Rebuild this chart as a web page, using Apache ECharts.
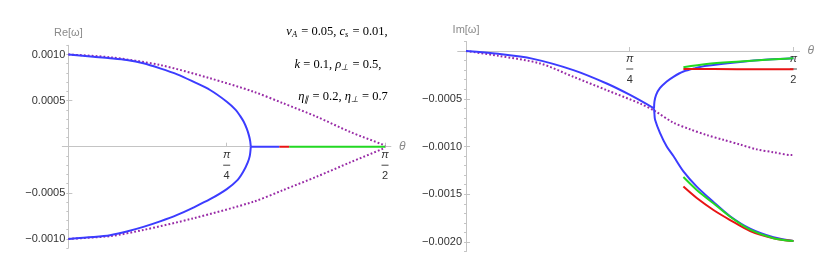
<!DOCTYPE html>
<html><head><meta charset="utf-8">
<script src="https://cdn.jsdelivr.net/npm/echarts@6/dist/echarts.min.js"></script>
<style>html,body{margin:0;padding:0;background:#fff}#c{width:830px;height:269px}</style>
</head><body><div id="c"></div>
<script>
// ---- tick labels ----
const xTickValues = [Math.PI / 4, Math.PI / 2];
const xTickDenoms = ['4', '2'];
const reMajorTicks = [-0.001, -0.0005, 0.0005, 0.001];
const imMajorTicks = [-0.002, -0.0015, -0.001, -0.0005];
const reMinorTicks = [];
for (let i = -11; i <= 11; i++) reMinorTicks.push(i / 10000);
const imMinorTicks = [];
for (let i = -21; i <= 1; i++) imMinorTicks.push(i / 10000);

// ---- Re[omega] panel ----
const reBlueUpper = [[0,0.001],[0.124,0.000976],[0.207,0.00096],[0.29,0.00094],[0.372,0.000905],[0.455,0.00085],[0.54,0.000785],[0.62,0.000705],[0.703,0.000615],[0.786,0.000488],[0.83,0.0004],[0.852,0.000335],[0.87,0.00027],[0.885,0.000195],[0.896,0.00012],[0.902,0.00006],[0.905,0]];
const reBlueLower = [[0,-0.001],[0.124,-0.00098],[0.207,-0.00096],[0.29,-0.00092],[0.372,-0.00087],[0.455,-0.00081],[0.54,-0.00074],[0.62,-0.00066],[0.703,-0.00057],[0.786,-0.00046],[0.84,-0.00036],[0.868,-0.00027],[0.89,-0.00017],[0.9,-0.0001],[0.905,0]];
const reBlueFlat = [[0.905,0],[1.047,0]];
const reRedFlat = [[1.047,0],[1.096,0]];
const reGreenFlat = [[1.096,0],[1.571,0]];
const reDottedUpper = [[0,0.001],[0.207,0.00097],[0.455,0.000886],[0.703,0.000742],[0.918,0.000597],[1.066,0.000471],[1.232,0.000325],[1.398,0.00016],[1.562,0.00002],[1.571,0]];
const reDottedLower = [[0,-0.001],[0.207,-0.00097],[0.372,-0.000903],[0.62,-0.000777],[0.918,-0.000597],[1.066,-0.00047],[1.232,-0.000325],[1.398,-0.00017],[1.562,-0.00002],[1.571,0]];

// ---- Im[omega] panel ----
const imBlueMain = [[0,0],[0.154,-0.00003],[0.317,-0.00008],[0.515,-0.0002],[0.675,-0.00034],[0.787,-0.00046],[0.902,-0.0006]];
const imBlueUpper = [[0.902,-0.0006],[0.904,-0.00053],[0.912,-0.00046],[0.93,-0.00039],[0.963,-0.00032],[0.995,-0.00027],[1.043,-0.000215],[1.1,-0.00018],[1.155,-0.000155],[1.315,-0.000115],[1.45,-0.00009],[1.571,-0.000076]];
const imBlueLower = [[0.902,-0.0006],[0.904,-0.00066],[0.907,-0.00072],[0.931,-0.00086],[0.963,-0.001],[0.995,-0.0011],[1.043,-0.00126],[1.107,-0.00142],[1.187,-0.00158],[1.267,-0.00173],[1.363,-0.00186],[1.475,-0.00195],[1.571,-0.00199]];
const imGreenUpper = [[1.043,-0.00017],[1.155,-0.000136],[1.315,-0.00011],[1.459,-0.000089],[1.571,-0.000076]];
const imRedUpper = [[1.043,-0.000188],[1.3,-0.00019],[1.571,-0.000192]];
const imGreenLower = [[1.043,-0.00132],[1.107,-0.001455],[1.187,-0.001595],[1.267,-0.001735],[1.363,-0.00187],[1.475,-0.00196],[1.571,-0.00199]];
const imRedLower = [[1.043,-0.00142],[1.107,-0.00154],[1.187,-0.001665],[1.267,-0.00177],[1.363,-0.001885],[1.475,-0.00196],[1.571,-0.00199]];
const imDotted = [[0,0],[0.154,-0.00005],[0.355,-0.00013],[0.515,-0.00027],[0.675,-0.00041],[0.835,-0.00055],[0.907,-0.00063],[0.995,-0.00075],[1.075,-0.00082],[1.155,-0.00088],[1.235,-0.00093],[1.315,-0.00098],[1.395,-0.00103],[1.475,-0.00106],[1.563,-0.00109],[1.571,-0.00109]];

const BLUE = '#3c3cff', RED = '#e81414', GREEN = '#22d822', PURPLE = '#982aa6';
const AXIS = '#c4c4c4', LABEL = '#333', NAMECOL = '#8a8a8a';
const SANS = '"Liberation Sans", Arial, sans-serif';
const SERIF = '"Liberation Serif", "Times New Roman", serif';

const G0 = { left: 62.3, top: 45.3, width: 328.6, height: 202.8, xmin: -0.03, xmax: 1.6, ymin: -0.0011, ymax: 0.0011 };
const G1 = { left: 457.7, top: 41.45, width: 341.8, height: 210.1, xmin: -0.04, xmax: 1.6, ymin: -0.0021, ymax: 0.0001 };
function zeroY(g) { return g.top + g.height * g.ymax / (g.ymax - g.ymin); }
function zeroX(g) { return g.left + g.width * (-g.xmin) / (g.xmax - g.xmin); }

function fmtY(v) {
  return (v < 0 ? '\u2212' : '') + Math.abs(v).toFixed(4);
}
function xAxisDef(grid, g, labelGap) {
  return {
    gridIndex: grid, type: 'value', min: g.xmin, max: g.xmax,
    axisLine: { onZero: true, lineStyle: { color: AXIS, width: 1 } },
    axisTick: { customValues: xTickValues, inside: true, length: 4, lineStyle: { color: AXIS } },
    axisLabel: {
      customValues: xTickValues,
      margin: (zeroY(g) + labelGap) - (g.top + g.height),
      formatter: function (v) {
        const i = Math.abs(v - Math.PI / 4) < 1e-6 ? 0 : 1;
        return '{p|\u03c0}\n{bar| }\n{d|' + xTickDenoms[i] + '}';
      },
      rich: {
        p: { fontSize: 11, fontStyle: 'italic', fontFamily: SANS, color: LABEL, lineHeight: 12, align: 'center' },
        bar: { width: 7, height: 1, backgroundColor: '#444', lineHeight: 9, fontSize: 1, align: 'center' },
        d: { fontSize: 11, fontFamily: SANS, color: LABEL, lineHeight: 12, align: 'center' }
      }
    },
    splitLine: { show: false },
    name: '\u03b8', nameLocation: 'end', nameGap: 8,
    nameTextStyle: { fontStyle: 'italic', color: NAMECOL, fontSize: 12, fontFamily: SANS }
  };
}
function yMajor(grid, xIdx, g, ticks, name, gap, labelGap) {
  return {
    gridIndex: grid, type: 'value', min: g.ymin, max: g.ymax,
    axisLine: { onZero: true, onZeroAxisIndex: xIdx, lineStyle: { color: AXIS, width: 1 } },
    axisTick: { customValues: ticks, inside: true, length: 4, lineStyle: { color: AXIS } },
    axisLabel: { customValues: ticks, formatter: fmtY, margin: g.left - (zeroX(g) - labelGap), fontSize: 11, fontFamily: SANS, color: LABEL },
    splitLine: { show: false },
    name: name, nameLocation: 'end', nameGap: gap,
    nameTextStyle: { color: NAMECOL, fontSize: 11, fontFamily: SANS }
  };
}
function yMinor(grid, xIdx, g, ticks) {
  return {
    gridIndex: grid, type: 'value', min: g.ymin, max: g.ymax,
    axisLine: { show: false, onZero: true, onZeroAxisIndex: xIdx },
    axisTick: { customValues: ticks, inside: true, length: 2, lineStyle: { color: AXIS } },
    axisLabel: { show: false }, splitLine: { show: false }
  };
}
function line(data, color, xi, yi, dotted) {
  return {
    type: 'line', data: data, xAxisIndex: xi, yAxisIndex: yi,
    showSymbol: false, symbol: 'none', smooth: 0.3, silent: true, animation: false,
    lineStyle: dotted ? { color: color, width: 2, type: [1.8, 2.1], cap: 'butt' } : { color: color, width: 2 }
  };
}
function richMath() {
  return {
    i: { fontFamily: SERIF, fontStyle: 'italic', fontSize: 12.5, color: '#111', lineHeight: 16 },
    r: { fontFamily: SERIF, fontSize: 12.5, color: '#111', lineHeight: 16 },
    s: { fontFamily: SERIF, fontStyle: 'italic', fontSize: 8.5, color: '#111', lineHeight: 16, padding: [6, 1, 0, 0] }
  };
}

const chart = echarts.init(document.getElementById('c'), null, { renderer: 'canvas' });
chart.setOption({
  animation: false,
  backgroundColor: '#fff',
  grid: [
    { left: G0.left, top: G0.top, width: G0.width, height: G0.height, outerBoundsMode: 'none', containLabel: false },
    { left: G1.left, top: G1.top, width: G1.width, height: G1.height, outerBoundsMode: 'none', containLabel: false }
  ],
  xAxis: [xAxisDef(0, G0, 2), xAxisDef(1, G1, 1.5)],
  yAxis: [
    yMajor(0, 0, G0, reMajorTicks, 'Re[\u03c9]', 7, 3),
    yMinor(0, 0, G0, reMinorTicks),
    yMajor(1, 1, G1, imMajorTicks, 'Im[\u03c9]', 5.5, 4),
    yMinor(1, 1, G1, imMinorTicks)
  ],
  graphic: [
    { type: 'text', x: 337, y: 32, style: {
      text: '{i|v}{s|A}{r| = 0.05, }{i|c}{s|s}{r| = 0.01,}', align: 'center', verticalAlign: 'middle',
      rich: richMath() } },
    { type: 'text', x: 338, y: 65, style: {
      text: '{i|k}{r| = 0.1, }{i|\u03c1}{s|\u22a5}{r| = 0.5,}', align: 'center', verticalAlign: 'middle',
      rich: richMath() } },
    { type: 'text', x: 343, y: 97, style: {
      text: '{i|\u03b7}{s|\u2225}{r| = 0.2, }{i|\u03b7}{s|\u22a5}{r| = 0.7}', align: 'center', verticalAlign: 'middle',
      rich: richMath() } }
  ],
  series: [
    line(reDottedUpper, PURPLE, 0, 0, true),
    line(reDottedLower, PURPLE, 0, 0, true),
    line(reBlueUpper, BLUE, 0, 0),
    line(reBlueLower, BLUE, 0, 0),
    line(reBlueFlat, BLUE, 0, 0),
    line(reRedFlat, RED, 0, 0),
    line(reGreenFlat, GREEN, 0, 0),
    line(imDotted, PURPLE, 1, 2, true),
    line(imBlueMain, BLUE, 1, 2),
    line(imBlueUpper, BLUE, 1, 2),
    line(imBlueLower, BLUE, 1, 2),
    line(imRedUpper, RED, 1, 2),
    line(imRedLower, RED, 1, 2),
    line(imGreenUpper, GREEN, 1, 2),
    line(imGreenLower, GREEN, 1, 2)
  ]
});
</script>
</body></html>
